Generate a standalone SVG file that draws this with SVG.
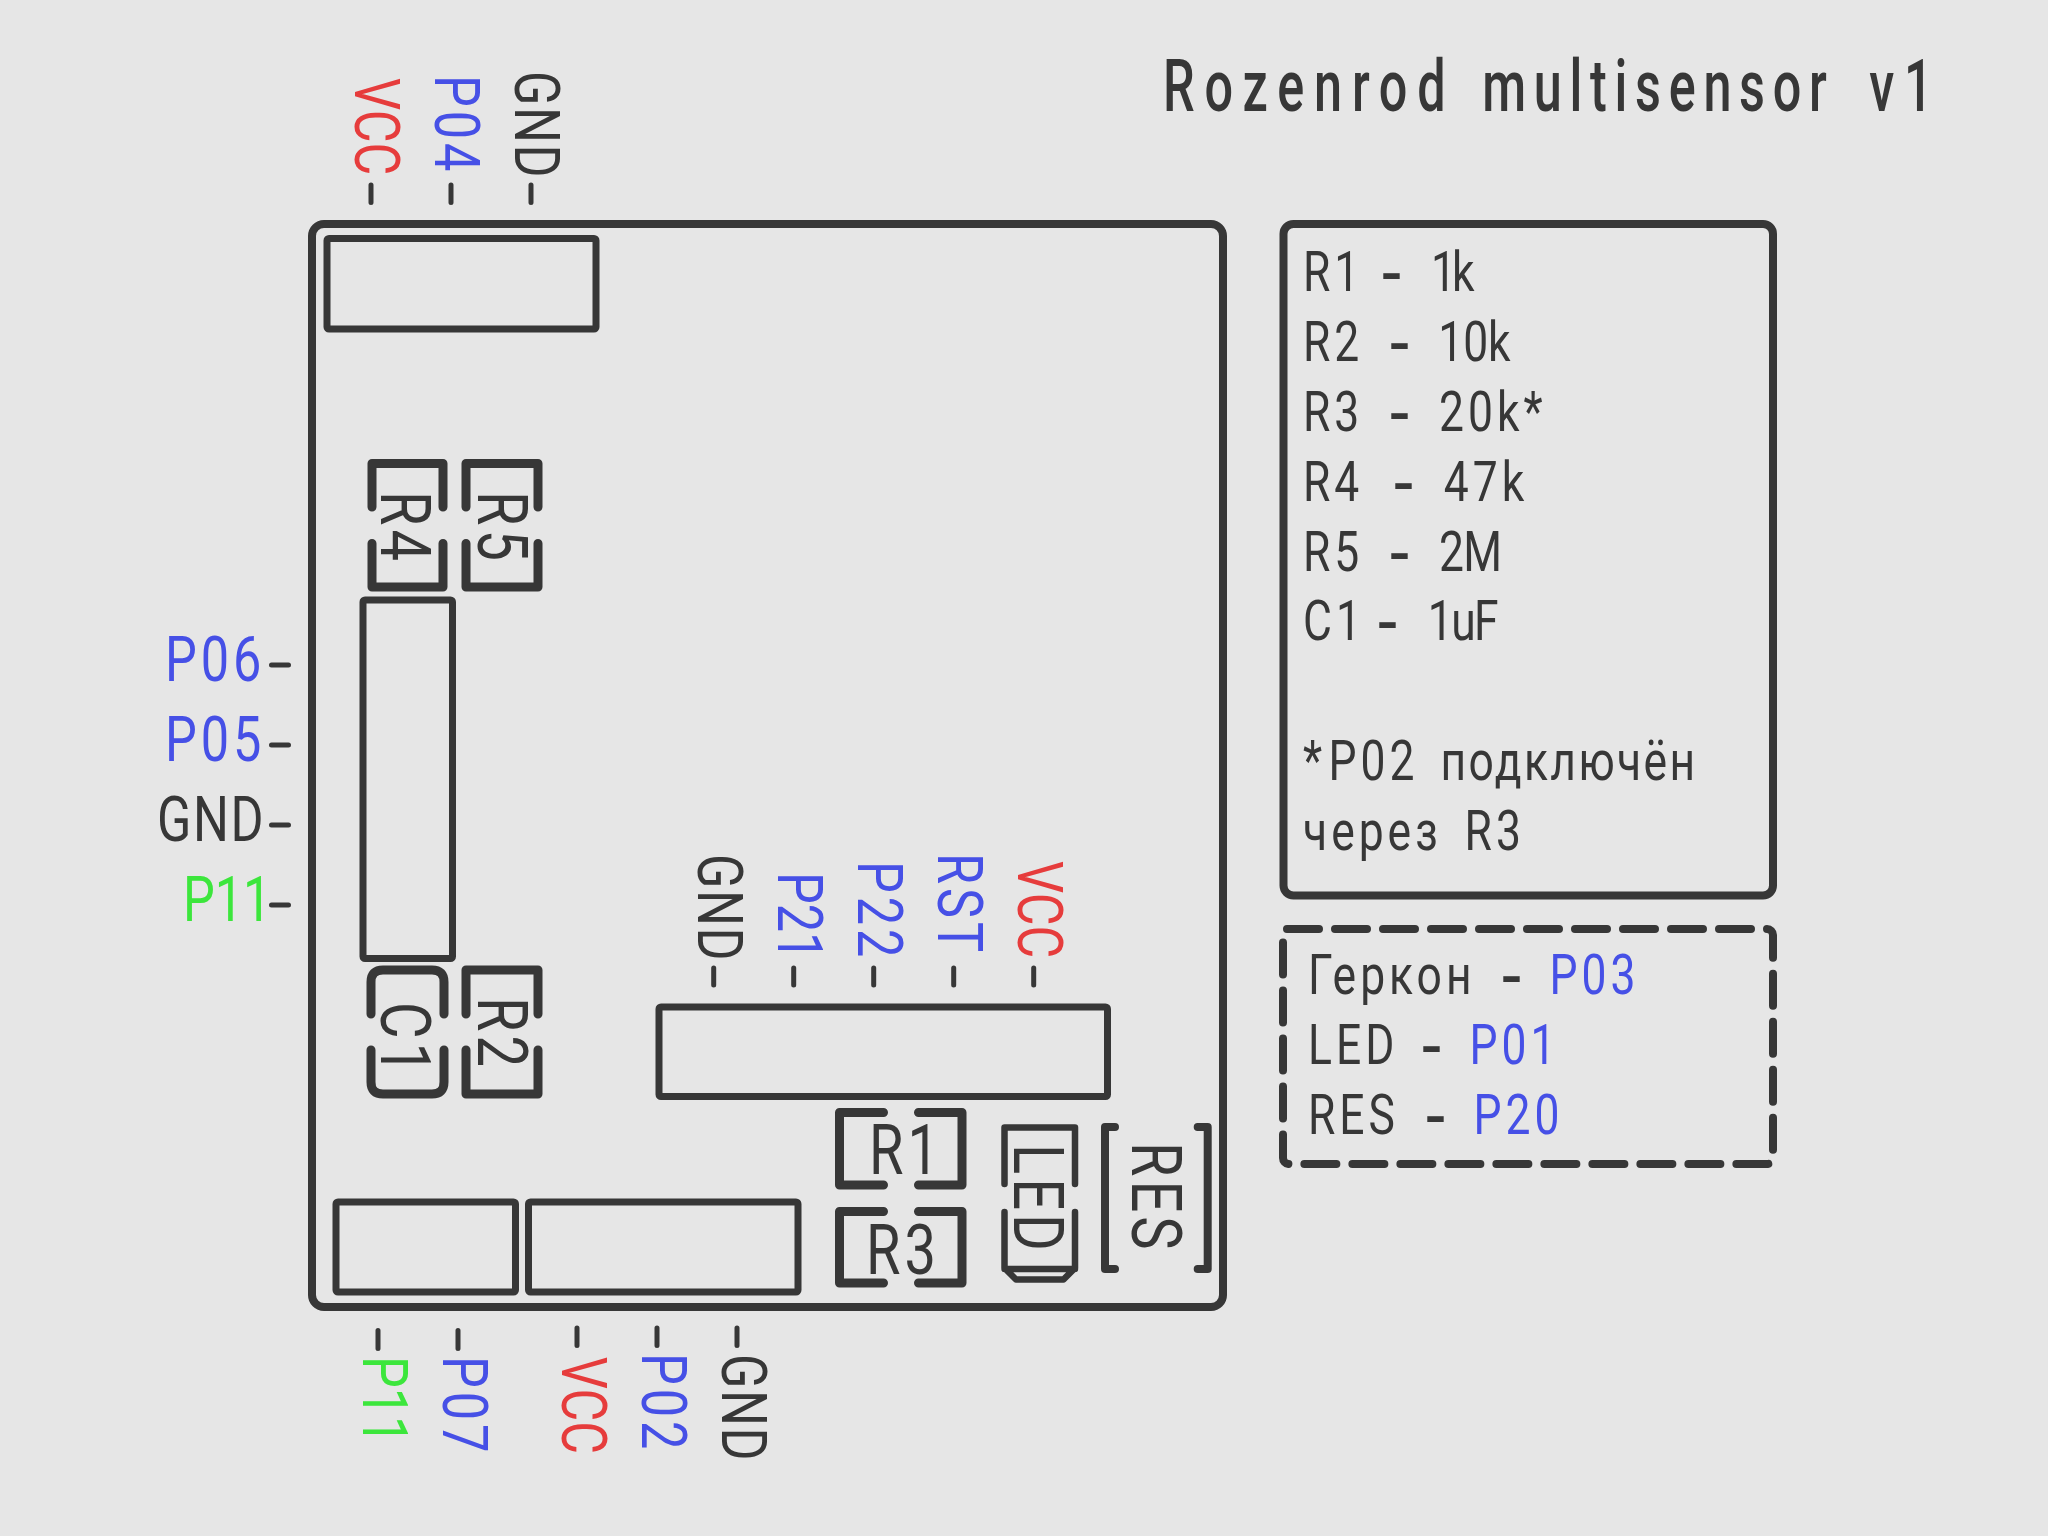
<svg xmlns="http://www.w3.org/2000/svg" width="2048" height="1536" viewBox="0 0 2048 1536">
<style>
text{font-family:Roboto,"Noto Sans",sans-serif;fill:#373737;font-size:63px;letter-spacing:5px;white-space:pre}
.blue{fill:#4650e6}.red{fill:#e63c3c}.green{fill:#3ce63c}
.lg{font-size:55.5px;word-spacing:-12px}
.cp{font-size:70px;letter-spacing:5px}
.ti{font-size:72px;font-weight:500}
.h{font-family:"Liberation Mono",monospace;font-size:75px}
.n{letter-spacing:0}.g{letter-spacing:2px}
.s{fill:none;stroke:#373737;stroke-linecap:round;stroke-linejoin:round}
.w7{stroke-width:7}.w8{stroke-width:8}.w9{stroke-width:9}.w6{stroke-width:6.5}.w5{stroke-width:5}
</style>
<rect width="2048" height="1536" fill="#e6e6e6"/>
<g id="title"><text class="ti" transform="translate(1163 110.7) scale(.7 1)"><tspan x="0" style="letter-spacing:14px">Rozenrod </tspan><tspan x="456" style="letter-spacing:11px">multisensor </tspan><tspan x="1009" style="letter-spacing:14px">v1</tspan></text></g>
<g id="board"><rect class="s w8" x="312" y="224" width="911" height="1083" rx="12"/></g>
<g id="conn-top"><rect class="s w7" x="327" y="238.5" width="269" height="90.5" rx="2"/></g>
<g id="conn-left"><rect class="s w7" x="363" y="600" width="89.5" height="358.5" rx="2"/></g>
<g id="conn-mid"><rect class="s w7" x="659" y="1007" width="448.5" height="89.5" rx="2"/></g>
<g id="conn-bottom-1"><rect class="s w7" x="336" y="1202" width="179.5" height="90" rx="2"/></g>
<g id="conn-bottom-2"><rect class="s w7" x="528.5" y="1202" width="269.5" height="90" rx="2"/></g>
<g id="R4"><path class="s w9" d="M372 507V463.5H443V507M372 543.5V587H443V543.5"/><text class="cp" transform="translate(381 491) rotate(90) scale(.8 1)">R4</text></g>
<g id="R5"><path class="s w9" d="M466 507V463.5H538V507M466 543.5V587H538V543.5"/><text class="cp" transform="translate(477.7 491) rotate(90) scale(.8 1)">R5</text></g>
<g id="C1"><path class="s w9" d="M371 1014V982Q371 970 383 970H432Q444 970 444 982V1014M371 1050V1082Q371 1094 383 1094H432Q444 1094 444 1082V1050"/><text class="cp" transform="translate(380.7 1002) rotate(90) scale(.8 1)">C1</text></g>
<g id="R2"><path class="s w9" d="M466 1014V970H538V1014M466 1050V1094H538V1050"/><text class="cp" transform="translate(477.7 997) rotate(90) scale(.8 1)">R2</text></g>
<g id="R1"><path class="s w9" d="M883.500 1112.500H839.500V1185H883.500M918.500 1112.500H962V1185H918.500"/><text class="cp" transform="translate(869 1174) scale(.8 1)">R1</text></g>
<g id="R3"><path class="s w9" d="M883.500 1211.500H839.500V1283H883.500M918.500 1211.500H962V1283H918.500"/><text class="cp" transform="translate(866 1274) scale(.8 1)">R3</text></g>
<g id="LED"><path class="s w6" d="M1004.500 1184V1127.500H1075V1184M1004.500 1212V1268L1016 1279.500H1063.500L1075 1268V1212M1004.500 1269H1075"/><text class="cp" transform="translate(1014 1144) rotate(90) scale(.8 1)">LED</text></g>
<g id="RES"><path class="s w8" d="M1115 1127H1105V1269H1115M1197.700 1127H1207.700V1269H1197.700"/><text class="cp" transform="translate(1132 1142) rotate(90) scale(.8 1)">RES</text></g>
<g id="connectors">
<path class="s w5" d="M271.500 665H288.500M271.500 745H288.500M271.500 825H288.500M271.500 905H288.500M371 185V202.500M451 185V202.500M531 185V202.500M378 1330.500V1348.500M458 1330.500V1348.500M577 1328V1345.500M657 1328V1345.500M737 1328V1345.500M713.700 968V985M793.700 968V985M873.700 968V985M953.700 968V985M1033.700 968V985"/>
</g>
<g id="labels-left">
<text class="blue" transform="translate(165 680.700) scale(.8 1)">P06</text>
<text class="blue" transform="translate(165 760.700) scale(.8 1)">P05</text>
<text class="g" transform="translate(157 840.700) scale(.8 1)">GND</text>
<text class="green n" transform="translate(183 920.700) scale(.8 1)">P11</text>
</g>
<g id="labels-top">
<text class="red n" transform="translate(355 78) rotate(90) scale(.8 1)">VCC</text>
<text class="blue" transform="translate(435 75) rotate(90) scale(.8 1)">P04</text>
<text class="g" transform="translate(515 71) rotate(90) scale(.8 1)">GND</text>
</g>
<g id="labels-mid">
<text class="g" transform="translate(698 854) rotate(90) scale(.8 1)">GND</text>
<text class="blue n" transform="translate(778 872) rotate(90) scale(.8 1)">P21</text>
<text class="blue" transform="translate(858 861) rotate(90) scale(.8 1)">P22</text>
<text class="blue" transform="translate(938 853) rotate(90) scale(.8 1)">RST</text>
<text class="red n" transform="translate(1018 861) rotate(90) scale(.8 1)">VCC</text>
</g>
<g id="labels-bottom">
<text class="green n" transform="translate(362.700 1356) rotate(90) scale(.8 1)">P11</text>
<text class="blue" transform="translate(442.700 1356) rotate(90) scale(.8 1)">P07</text>
<text class="red n" transform="translate(561.700 1356.700) rotate(90) scale(.8 1)">VCC</text>
<text class="blue" transform="translate(641.700 1353) rotate(90) scale(.8 1)">P02</text>
<text class="g" transform="translate(721.700 1354) rotate(90) scale(.8 1)">GND</text>
</g>
<g id="values">
<rect class="s w8" x="1283.500" y="224" width="489.500" height="671.500" rx="10"/>
<text class="lg" transform="translate(1303 291) scale(.8 1)"><tspan x="0">R1 </tspan><tspan class="h" x="88" dy="5">-</tspan> <tspan x="160" dy="-5" style="letter-spacing:-5px">1k</tspan></text>
<text class="lg" transform="translate(1303 361) scale(.8 1)"><tspan x="0">R2 </tspan><tspan class="h" x="98" dy="5">-</tspan> <tspan x="169" dy="-5" style="letter-spacing:0">10k</tspan></text>
<text class="lg" transform="translate(1303 431) scale(.8 1)"><tspan x="0">R3 </tspan><tspan class="h" x="98" dy="5">-</tspan> <tspan x="170" dy="-5">20k*</tspan></text>
<text class="lg" transform="translate(1303 501) scale(.8 1)"><tspan x="0">R4 </tspan><tspan class="h" x="103" dy="5">-</tspan> <tspan x="176" dy="-5">47k</tspan></text>
<text class="lg" transform="translate(1303 571) scale(.8 1)"><tspan x="0">R5 </tspan><tspan class="h" x="98" dy="5">-</tspan> <tspan x="170" dy="-5" style="letter-spacing:-1px">2M</tspan></text>
<text class="lg" transform="translate(1303 640) scale(.8 1)"><tspan x="0">C1 </tspan><tspan class="h" x="83" dy="5">-</tspan> <tspan x="156" dy="-5" style="letter-spacing:-2px">1uF</tspan></text>
<text class="lg" transform="translate(1303 780) scale(.8 1)"><tspan x="0">*</tspan><tspan x="32">P02 </tspan><tspan x="172" style="letter-spacing:3px">подключён</tspan></text>
<text class="lg" transform="translate(1303 850) scale(.8 1)"><tspan x="0">через </tspan><tspan x="202">R3</tspan></text>
</g>
<g id="pins">
<path class="s w8" stroke-dasharray="32 16" d="M1287 929H1767A6 6 0 0 1 1773 935V1158A6 6 0 0 1 1767 1164H1289A6 6 0 0 1 1283 1158V935"/>
<text class="lg" transform="translate(1308 994) scale(.8 1)"><tspan x="0">Геркон </tspan><tspan class="h" x="232" dy="5">-</tspan> <tspan class="blue" x="302" dy="-5">P03</tspan></text>
<text class="lg" transform="translate(1308 1064) scale(.8 1)"><tspan x="0">LED </tspan><tspan class="h" x="132" dy="5">-</tspan> <tspan class="blue" x="202" dy="-5">P01</tspan></text>
<text class="lg" transform="translate(1308 1134) scale(.8 1)"><tspan x="0">RES </tspan><tspan class="h" x="137" dy="5">-</tspan> <tspan class="blue" x="207" dy="-5">P20</tspan></text>
</g>
</svg>
